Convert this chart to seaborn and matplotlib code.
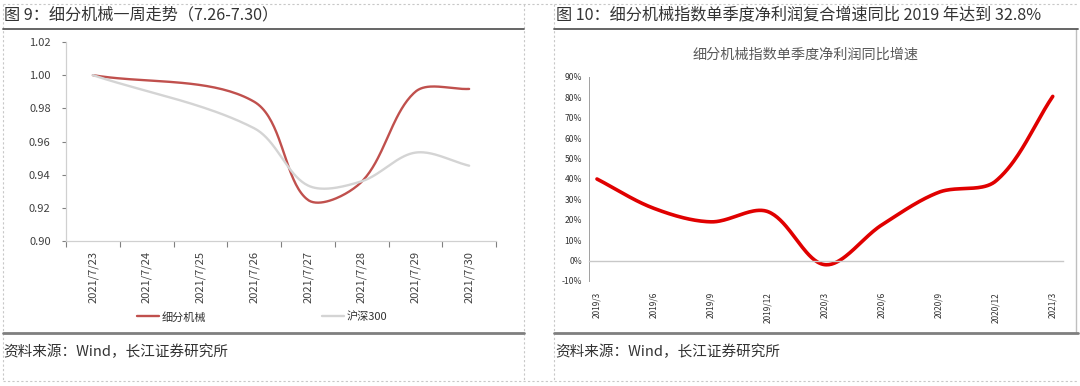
import numpy as np
import pandas as pd
import seaborn as sns
import matplotlib.pyplot as plt
from matplotlib.lines import Line2D
from matplotlib.ticker import PercentFormatter

# 图 9 数据（日期轴：只有交易日有数据）
axis_dates = ["2021/7/23", "2021/7/24", "2021/7/25", "2021/7/26",
              "2021/7/27", "2021/7/28", "2021/7/29", "2021/7/30"]
trade_dates = ["2021/7/23", "2021/7/26", "2021/7/27", "2021/7/28",
               "2021/7/29", "2021/7/30"]
machinery = [1.000, 0.984, 0.9248, 0.9357, 0.990, 0.9917]
hs300 = [1.000, 0.968, 0.9335, 0.936, 0.9533, 0.9454]

# 图 10 数据
quarters = ["2019/3", "2019/6", "2019/9", "2019/12", "2020/3",
            "2020/6", "2020/9", "2020/12", "2021/3"]
profit_growth = [0.40, 0.256, 0.19, 0.24, -0.02, 0.175, 0.335, 0.39, 0.805]

W, H = 1080, 386


def smooth(xv, vals, sx, sy, steps=40):
    # Excel 风格的平滑折线：按屏幕上的线段长度分配贝塞尔控制点
    p = np.column_stack([np.asarray(xv, dtype=float) * sx, np.asarray(vals, dtype=float) * sy])
    ext = np.vstack([p[0], p, p[-1]])
    d = np.linalg.norm(np.diff(ext, axis=0), axis=1)
    tang = ext[2:] - ext[:-2]
    dl, dr = d[:-1], d[1:]
    tot = dl + dr
    c_left = p - tang * (dl / tot / 3)[:, None]
    c_right = p + tang * (dr / tot / 3)[:, None]
    t = np.linspace(0, 1, steps, endpoint=False)[:, None, None]
    b0, b1, b2, b3 = p[:-1], c_right[:-1], c_left[1:], p[1:]
    pts = (1 - t)**3 * b0 + 3 * (1 - t)**2 * t * b1 + 3 * (1 - t) * t**2 * b2 + t**3 * b3
    pts = np.vstack([pts.transpose(1, 0, 2).reshape(-1, 2), p[-1]])
    return pts[:, 0] / sx, pts[:, 1] / sy


sns.set_theme(style="white")
plt.rcParams["font.family"] = ["Noto Sans CJK SC", "DejaVu Sans"]
plt.rcParams["axes.unicode_minus"] = False

fig = plt.figure(figsize=(W / 100, H / 100), dpi=100)


def fx(x):
    return x / W


def fy(y):
    return 1 - y / H


# 面板装饰线
dash = dict(color="#c8c8c8", lw=0.8, ls=(0, (2, 2)))
for x in [3, 524, 554]:
    fig.add_artist(Line2D([fx(x), fx(x)], [fy(4), fy(381)], **dash))
fig.add_artist(Line2D([fx(3), fx(1078)], [fy(4), fy(4)], **dash))
fig.add_artist(Line2D([fx(3), fx(1078)], [fy(381), fy(381)], **dash))
fig.add_artist(Line2D([fx(1076), fx(1076)], [fy(29), fy(333)], color="#bfbfbf", lw=1.0))
for x0, x1 in [(3, 524), (554, 1078)]:
    fig.add_artist(Line2D([fx(x0), fx(x1)], [fy(28.5), fy(28.5)], color="#595959", lw=1.3))
    fig.add_artist(Line2D([fx(x0), fx(x1)], [fy(333), fy(333)], color="#7f7f7f", lw=2.0))

fig.text(fx(4), fy(15), "图 9：细分机械一周走势（7.26-7.30）", fontsize=11.65,
         color="#333333", va="center", ha="left")
fig.text(fx(556), fy(15), "图 10：细分机械指数单季度净利润复合增速同比 2019 年达到 32.8%",
         fontsize=11.65, color="#333333", va="center", ha="left")
for x in [3, 555]:
    fig.text(fx(x), fy(352), "资料来源：Wind，长江证券研究所", fontsize=10.5,
             color="#333333", va="center", ha="left")

# ---------- 左图 ----------
day0 = pd.Timestamp(axis_dates[0])
day_pos = [(pd.Timestamp(d) - day0).days for d in trade_dates]

ax1 = fig.add_axes([fx(66), fy(241), 430 / W, 199 / H])
xs, ys = smooth(day_pos, machinery, 53.75, 1658)
sns.lineplot(x=xs, y=ys, ax=ax1, color="#c0504d", lw=1.7, sort=False,
             estimator=None, label="细分机械")
xs, ys = smooth(day_pos, hs300, 53.75, 1658)
sns.lineplot(x=xs, y=ys, ax=ax1, color="#d4d4d4", lw=1.7, sort=False,
             estimator=None, label="沪深300")
ax1.set_xlim(-0.5, len(axis_dates) - 0.5)
ax1.set_ylim(0.90, 1.02)
ax1.set_yticks(np.arange(0.90, 1.021, 0.02))
ax1.set_yticklabels([f"{v:.2f}" for v in np.arange(0.90, 1.021, 0.02)])
ax1.set_xticks(range(len(axis_dates)))
ax1.set_xticklabels(axis_dates, rotation=90)
ax1.set_xticks(np.arange(-0.5, len(axis_dates), 1), minor=True)
ax1.tick_params(axis="x", which="major", length=0, pad=7, labelsize=8, labelcolor="#404040")
ax1.tick_params(axis="x", which="minor", length=4, width=0.8, color="#808080", direction="out")
ax1.tick_params(axis="y", length=3, width=0.8, color="#808080", direction="out",
                labelsize=8, labelcolor="#404040", pad=8)
ax1.xaxis.set_ticks_position("bottom")
ax1.yaxis.set_ticks_position("left")
for s in ["top", "right"]:
    ax1.spines[s].set_visible(False)
for s in ["left", "bottom"]:
    ax1.spines[s].set_color("#d0d0d0")
    ax1.spines[s].set_linewidth(0.9)
ax1.set_xlabel("")
ax1.set_ylabel("")
h, l = ax1.get_legend_handles_labels()
ax1.legend(h, l, loc="center", bbox_to_anchor=(fx(262), fy(317)),
           bbox_transform=fig.transFigure, ncol=2, frameon=False, fontsize=8,
           handlelength=2.0, handletextpad=0.2, columnspacing=10.5,
           labelcolor="#333333")

# ---------- 右图 ----------
ax2 = fig.add_axes([fx(589), fy(281), 474 / W, 204 / H])
xs, ys = smooth(range(len(quarters)), profit_growth, 57, 210)
sns.lineplot(x=xs, y=ys, ax=ax2, color="#e00000", lw=2.6, sort=False,
             estimator=None, legend=False)
ax2.set_xlim(-0.14, 8.18)
ax2.set_ylim(-0.10, 0.90)
ax2.set_yticks(np.arange(-0.1, 0.91, 0.1))
ax2.yaxis.set_major_formatter(PercentFormatter(1.0, decimals=0))
ax2.tick_params(axis="y", length=2, width=0.6, color="#808080", direction="out",
                labelsize=6.2, labelcolor="#333333", pad=3)
ax2.spines["bottom"].set_position(("data", 0))
ax2.set_xticks([])
ax2.set_xticks(np.arange(0.86, 8, 1), minor=True)
ax2.tick_params(axis="x", which="minor", length=3, width=0.6, color="#909090",
                direction="inout", labelbottom=False)
for s in ["top", "right"]:
    ax2.spines[s].set_visible(False)
ax2.spines["left"].set_color("#a0a0a0")
ax2.spines["left"].set_linewidth(0.7)
ax2.spines["bottom"].set_color("#c8c8c8")
ax2.spines["bottom"].set_linewidth(1.0)
ax2.set_xlabel("")
ax2.set_ylabel("")
sec = ax2.secondary_xaxis("bottom")
sec.set_xticks(range(len(quarters)))
sec.set_xticklabels(quarters, rotation=90)
sec.tick_params(length=0, pad=8, labelsize=6, labelcolor="#333333")
sec.spines["bottom"].set_visible(False)
fig.text(fx(806), fy(55), "细分机械指数单季度净利润同比增速", fontsize=10.2,
         color="#595959", va="center", ha="center")

fig.savefig("out.png", dpi=100)
